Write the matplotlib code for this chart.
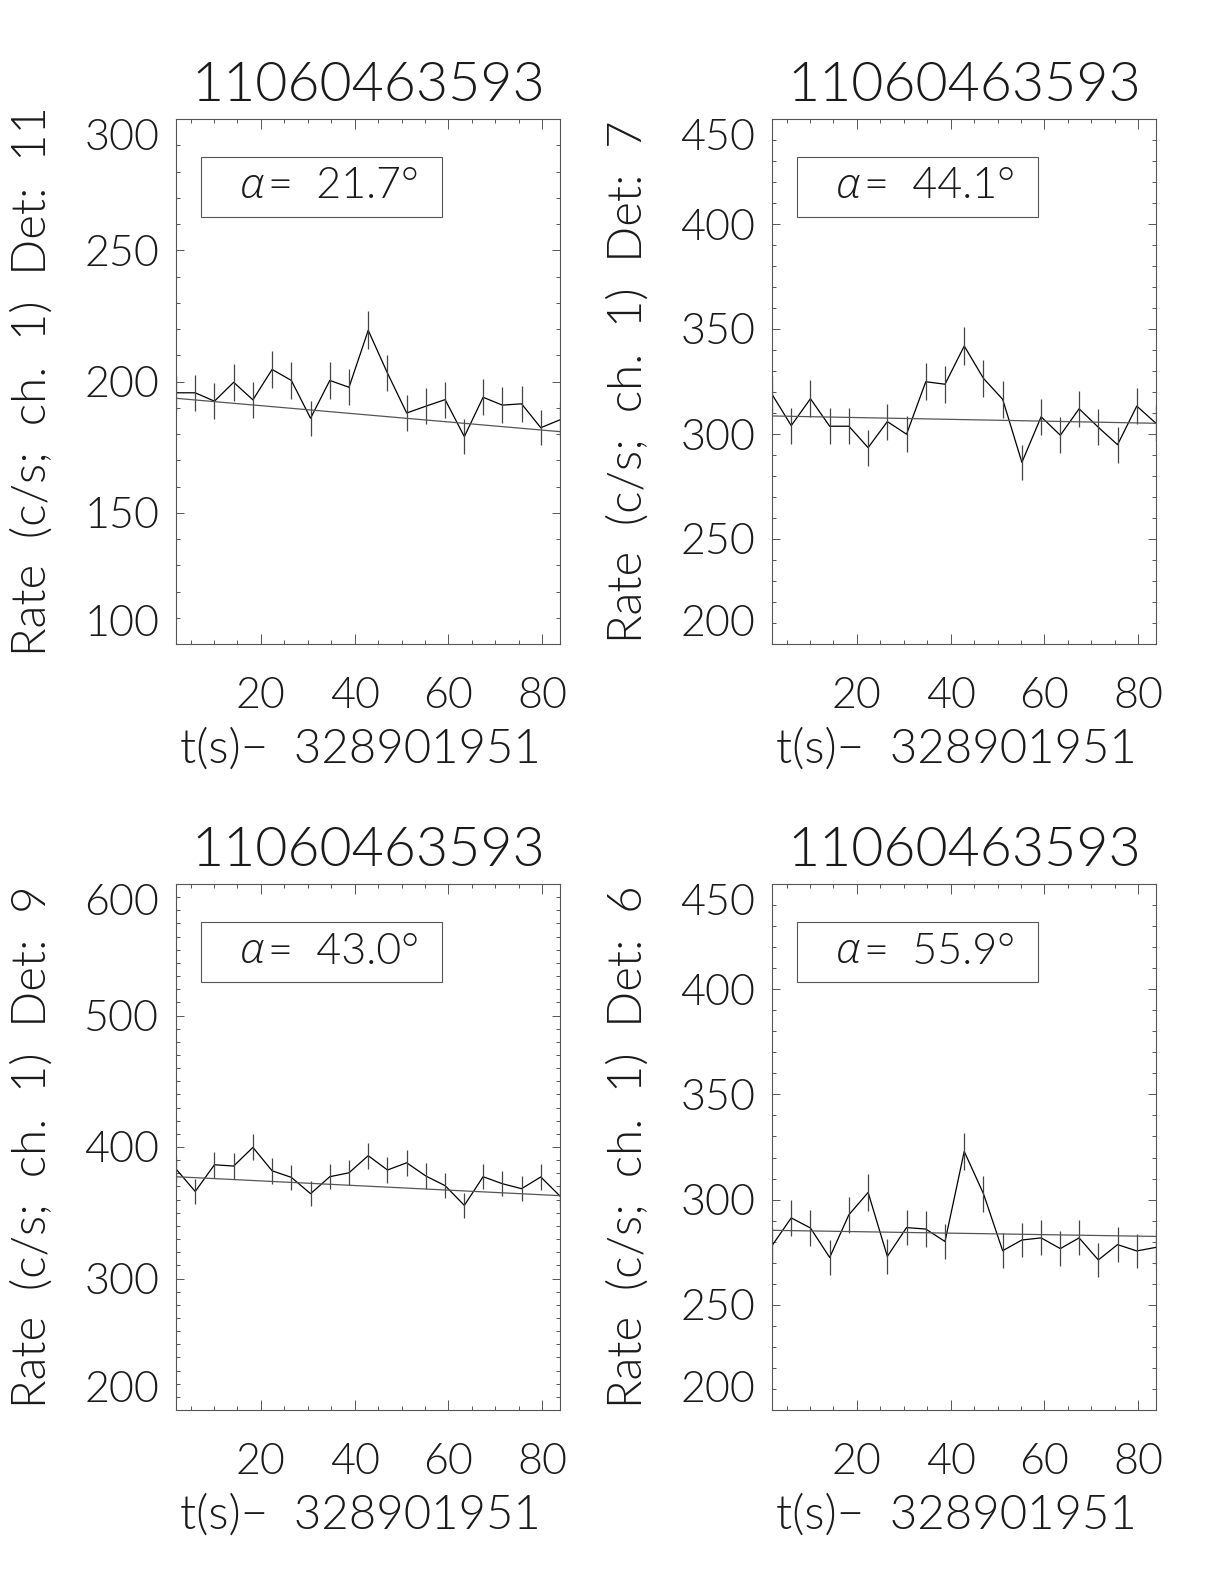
import numpy as np
import matplotlib
matplotlib.use('Agg')
from matplotlib import pyplot as plt
from matplotlib.ticker import MultipleLocator
from matplotlib.patches import Rectangle

plt.rcParams['font.family'] = ['Lato', 'DejaVu Sans']
plt.rcParams['font.weight'] = 300
plt.rcParams['axes.labelweight'] = 300

# data
t = [1.9, 6.0, 10.1, 14.2, 18.3, 22.4, 26.5, 30.6, 34.7, 38.8, 42.9,
     47.0, 51.1, 55.2, 59.3, 63.4, 67.4, 71.5, 75.6, 79.7, 83.8]

obs_id = '11060463593'
t_ref = '328901951'
dets = [11, 7, 9, 6]
alphas = [21.7, 44.1, 43.0, 55.9]

rate_d11 = [195.7, 195.7, 192.5, 199.7, 193.0, 204.6, 200.4, 186.0, 200.4, 197.8, 219.5,
            203.2, 188.0, 190.6, 193.1, 179.0, 194.0, 191.0, 191.5, 182.4, 185.4]
err_d11 = [6.9, 6.9, 6.9, 7.0, 6.9, 7.1, 7.0, 6.7, 7.0, 6.9, 7.3,
           7.0, 6.8, 6.8, 6.9, 6.6, 6.9, 6.8, 6.8, 6.7, 6.7]
fit_d11 = [193.6, 180.9]

rate_d7 = [318.9, 304.0, 316.8, 303.7, 303.7, 293.5, 305.9, 299.9, 324.9, 323.7, 341.9,
           326.5, 316.5, 286.5, 308.2, 299.4, 312.0, 303.2, 294.9, 313.3, 305.1]
err_d7 = [8.8, 8.6, 8.8, 8.6, 8.6, 8.5, 8.6, 8.6, 8.9, 8.9, 9.1,
          8.9, 8.8, 8.4, 8.7, 8.6, 8.7, 8.6, 8.5, 8.7, 8.6]
fit_d7 = [308.6, 305.1]

rate_d9 = [383.3, 366.2, 386.5, 385.5, 399.7, 381.9, 376.9, 364.5, 377.4, 380.4, 393.4,
           382.5, 388.0, 377.9, 370.6, 355.6, 377.4, 372.1, 368.3, 377.2, 362.7]
err_d9 = [9.7, 9.5, 9.7, 9.7, 9.9, 9.7, 9.6, 9.4, 9.6, 9.6, 9.8,
          9.7, 9.7, 9.6, 9.5, 9.3, 9.6, 9.5, 9.5, 9.6, 9.4]
fit_d9 = [377.4, 363.0]

rate_d6 = [278.1, 291.3, 286.5, 272.5, 292.8, 303.4, 273.0, 286.7, 286.0, 280.1, 322.9,
           302.8, 275.7, 280.8, 281.8, 276.7, 281.8, 271.3, 278.6, 275.6, 277.3]
err_d6 = [8.2, 8.4, 8.4, 8.2, 8.5, 8.6, 8.2, 8.4, 8.4, 8.3, 8.9,
          8.6, 8.2, 8.3, 8.3, 8.2, 8.3, 8.1, 8.2, 8.2, 8.2]
fit_d6 = [285.4, 282.5]

rates = [rate_d11, rate_d7, rate_d9, rate_d6]
errs = [err_d11, err_d7, err_d9, err_d6]
fits = [fit_d11, fit_d7, fit_d9, fit_d6]
ylims = [(100, 300), (200, 450), (200, 600), (200, 450)]
ymajor = [50, 50, 100, 50]

# axes positions in pixels (left, top, bottom) on the 1224x1584 canvas
W, H = 1224, 1584
boxes = [(176, 119, 644), (772, 119, 644), (176, 884, 1410), (772, 884, 1410)]
axw = 384

ink = '#1a1a1a'
fig = plt.figure(figsize=(12.24, 15.84), dpi=100)

for i in range(4):
    left, top, bot = boxes[i]
    axh = bot - top
    ax = fig.add_axes([left / W, 1 - bot / H, axw / W, axh / H])
    x = np.array(t)
    y = np.array(rates[i])
    ax.plot(x, y, color='black', lw=0.9)
    ax.errorbar(x, y, yerr=errs[i], fmt='none', ecolor='#444444', elinewidth=0.9, capsize=0)
    ax.plot([t[0], t[-1]], fits[i], color='#555555', lw=0.9)

    ax.set_xlim(t[0], t[-1])
    ax.set_ylim(*ylims[i])
    ax.xaxis.set_major_locator(MultipleLocator(20))
    ax.xaxis.set_minor_locator(MultipleLocator(5))
    ax.yaxis.set_major_locator(MultipleLocator(ymajor[i]))
    ax.yaxis.set_minor_locator(MultipleLocator(10))
    ax.tick_params(which='both', direction='in', top=True, right=True,
                   colors='#555555', labelcolor=ink, width=0.7, labelsize=31)
    ax.tick_params(axis='x', which='major', length=7.2, pad=24)
    ax.tick_params(axis='x', which='minor', length=2.7)
    ax.tick_params(axis='y', which='major', length=5.5, pad=12)
    ax.tick_params(axis='y', which='minor', length=2.7)
    for s in ax.spines.values():
        s.set_color('#555555')
        s.set_linewidth(0.8)

    # end labels on the y axis stay inside the axis range
    lo, hi = ylims[i]
    for tk, lb in zip(ax.get_yticks(), ax.get_yticklabels()):
        if tk == lo:
            lb.set_va('bottom')
        elif tk == hi:
            lb.set_va('top')

    ax.set_ylabel('Rate  (c/s;  ch.  1)  Det:  %d' % dets[i], fontsize=34, color=ink)
    ax.yaxis.set_label_coords(-122 / axw, 0.5)
    ax.set_xlabel('t(s)\u2212  ' + t_ref, fontsize=34, color=ink)
    ax.xaxis.set_label_coords(0.479, -84 / axh)

    ax.text(0.5, 1 + 18 / axh, obs_id, transform=ax.transAxes, ha='center',
            va='baseline', fontsize=40, color=ink)

    ax.add_patch(Rectangle((25 / axw, 1 - 98 / axh), 241 / axw, 60 / axh,
                           transform=ax.transAxes, fill=False, ec='#555555', lw=0.8))
    ax.text(76 / axw, 1 - 68 / axh, '\u03b1', transform=ax.transAxes, ha='center',
            va='center', fontsize=31, color=ink, family='Open Sans',
            style='italic', weight=300)
    ax.text(92 / axw, 1 - 68 / axh, '=  %.1f\u00b0' % alphas[i],
            transform=ax.transAxes, ha='left', va='center', fontsize=31, color=ink)

plt.savefig('out.png', dpi=100)
